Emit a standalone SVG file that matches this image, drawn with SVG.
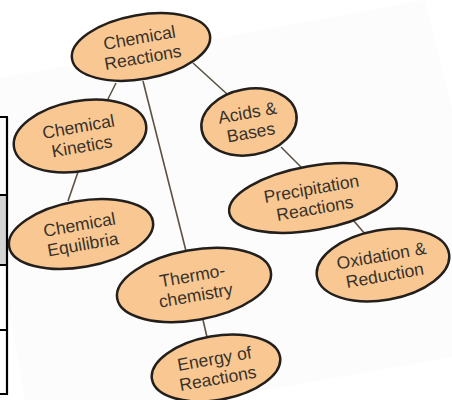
<svg xmlns="http://www.w3.org/2000/svg" width="452" height="400" viewBox="0 0 452 400">
<style>
.node ellipse{fill:#f9c892;stroke:#231f1c;stroke-width:2.5}
.node text{font-family:"Liberation Sans",Arial,sans-serif;font-size:17.5px;fill:#38312a;text-anchor:middle}
#connectors line{stroke:#5c5244;stroke-width:1.6}
.frame{stroke:#000;stroke-width:2.2;fill:none}
</style>
<rect width="452" height="400" fill="#ffffff"/>
<polygon points="0,78 425,0 452,108 452,357 210,400 25,400 0,260" fill="#fcfcfc"/>
<g id="table-edge">
<rect x="0" y="195" width="7" height="70" fill="#d4d4d4"/>
<path class="frame" d="M7,117V395M0,117H8M0,195H8M0,265H8M0,330H8M0,394H8"/>
</g>
<g id="connectors">
<line x1="116" y1="83" x2="107" y2="101"/>
<line x1="143" y1="81" x2="186" y2="251"/>
<line x1="193" y1="63" x2="227" y2="94"/>
<line x1="78" y1="172" x2="68" y2="201"/>
<line x1="281" y1="147" x2="304" y2="170"/>
<line x1="353" y1="220" x2="366" y2="235"/>
<line x1="203" y1="320" x2="207" y2="337"/>
</g>
<g id="n-reactions" class="node" transform="translate(141,47) rotate(-10)">
<ellipse rx="70" ry="32"/>
<text y="-3.5">Chemical</text><text y="16.5">Reactions</text>
</g>
<g id="n-kinetics" class="node" transform="translate(80,136) rotate(-10)">
<ellipse rx="67" ry="35"/>
<text y="-3.5">Chemical</text><text y="16.5">Kinetics</text>
</g>
<g id="n-acids" class="node" transform="translate(249,122) rotate(-10)">
<ellipse rx="48" ry="33"/>
<text y="-3.5">Acids &amp;</text><text y="16.5">Bases</text>
</g>
<g id="n-precipitation" class="node" transform="translate(313,198) rotate(-10)">
<ellipse rx="85" ry="32"/>
<text y="-3.5">Precipitation</text><text y="16.5">Reactions</text>
</g>
<g id="n-equilibria" class="node" transform="translate(81,234) rotate(-10)">
<ellipse rx="73" ry="33"/>
<text y="-3.5">Chemical</text><text y="16.5">Equilibria</text>
</g>
<g id="n-thermo" class="node" transform="translate(194,285) rotate(-10)">
<ellipse rx="78" ry="35"/>
<text y="-3.5">Thermo-</text><text y="16.5">chemistry</text>
</g>
<g id="n-oxidation" class="node" transform="translate(383,265) rotate(-10)">
<ellipse rx="67" ry="35"/>
<text y="-3.5">Oxidation &amp;</text><text y="16.5">Reduction</text>
</g>
<g id="n-energy" class="node" transform="translate(216,368) rotate(-10)">
<ellipse rx="65" ry="32"/>
<text y="-3.5">Energy of</text><text y="16.5">Reactions</text>
</g>
</svg>
